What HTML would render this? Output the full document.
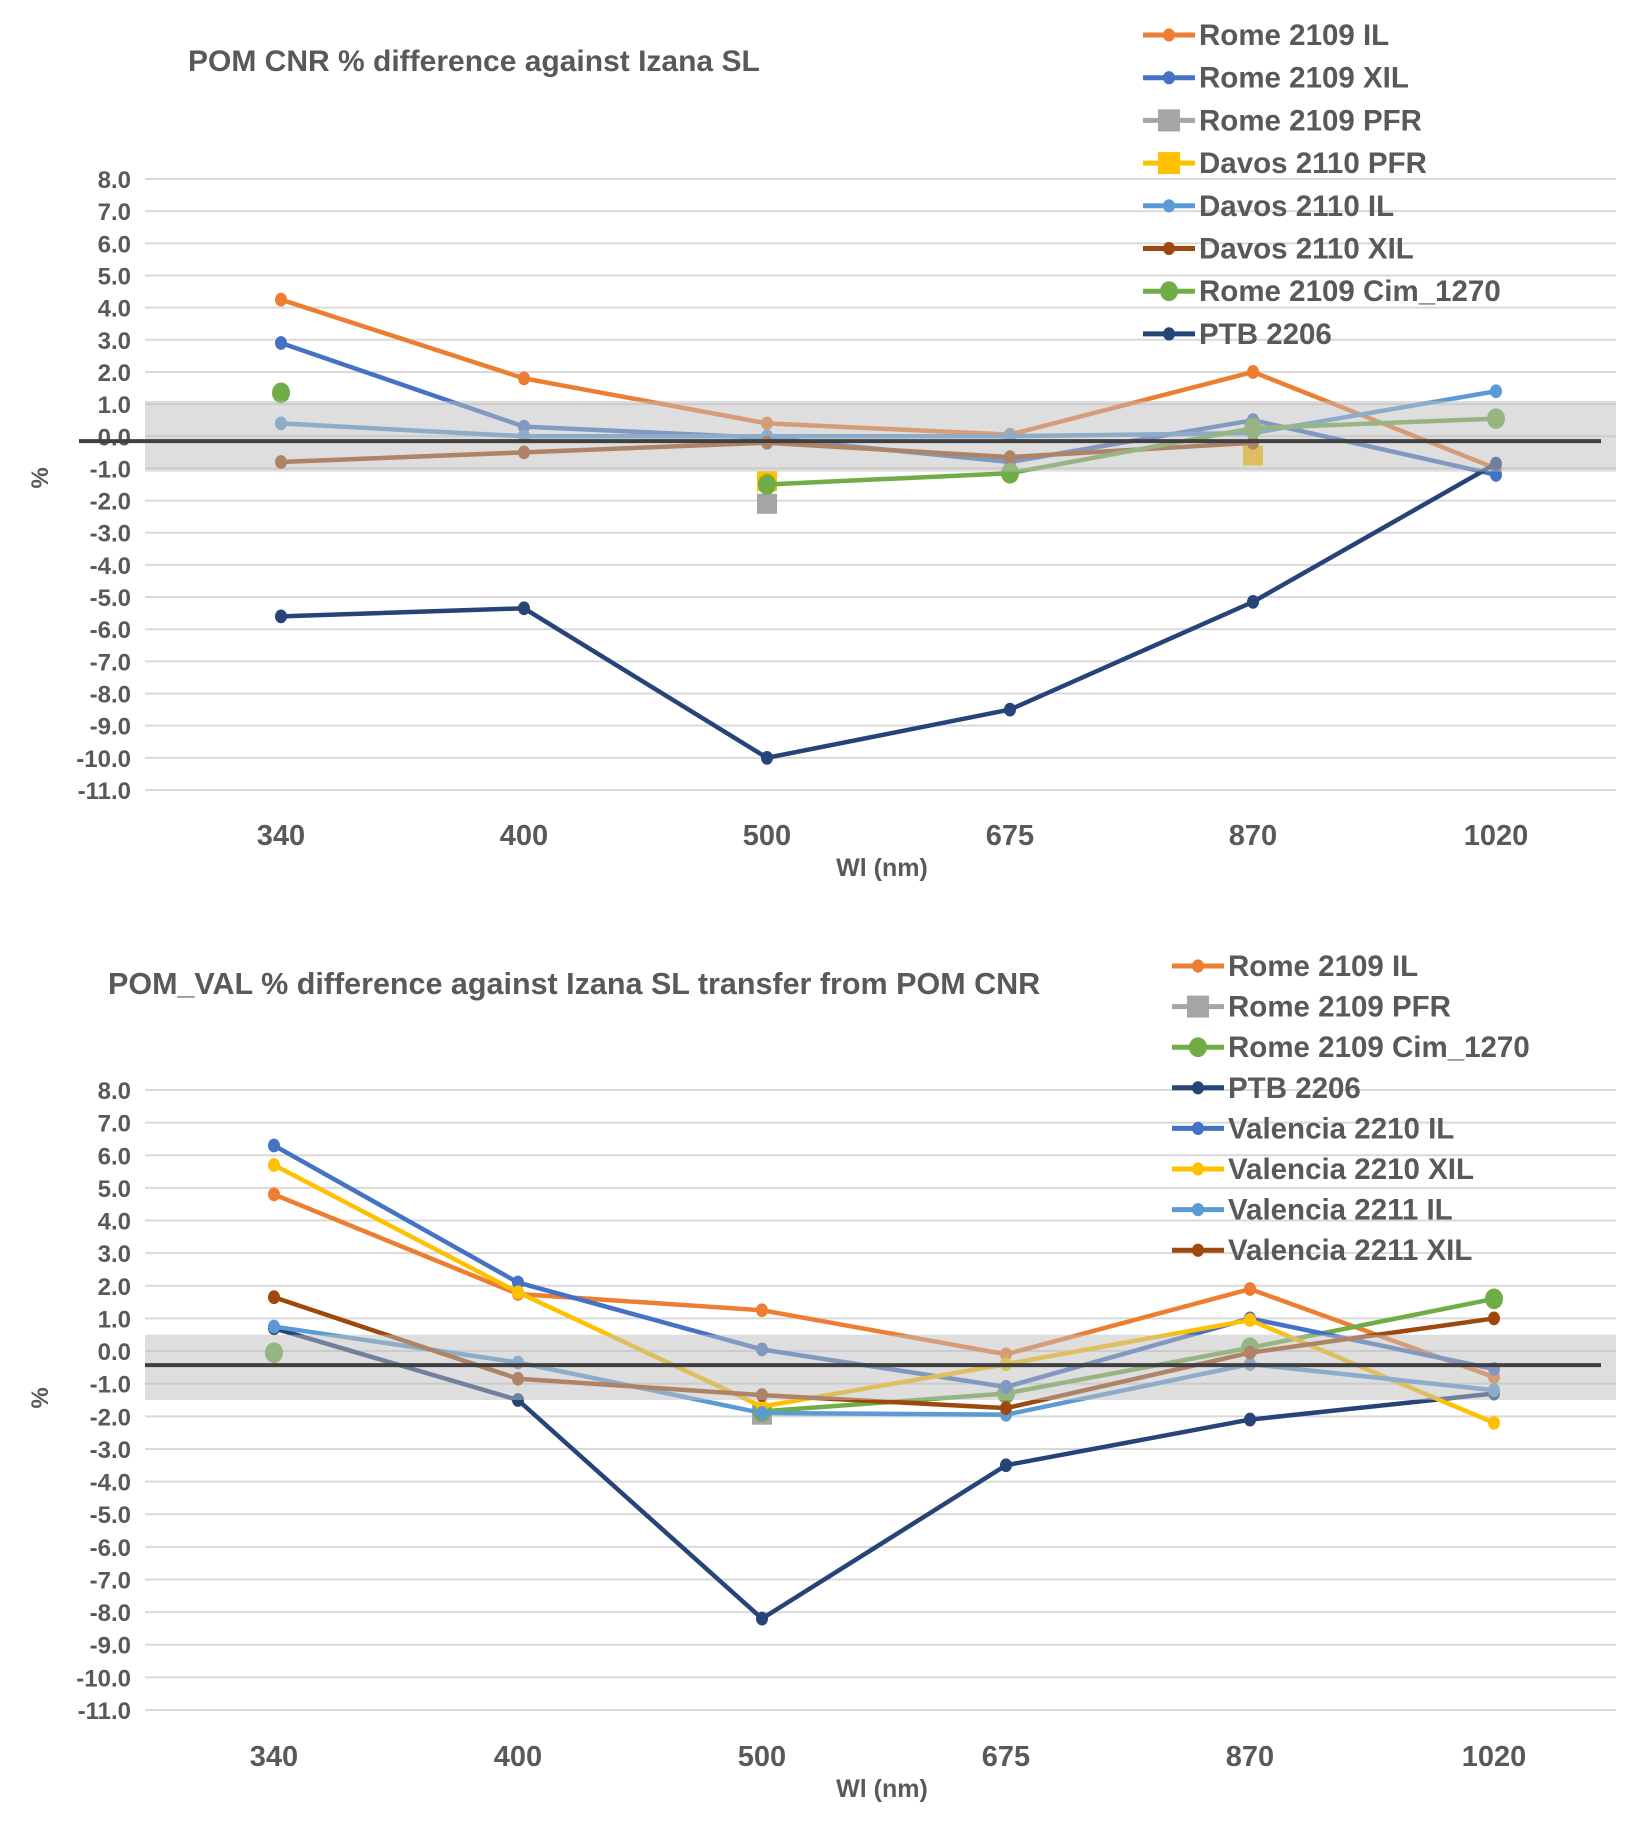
<!DOCTYPE html>
<html><head><meta charset="utf-8"><style>
body{margin:0;background:#fff}
svg text{font-family:"Liberation Sans",sans-serif;font-weight:bold;fill:#595959}
</style></head><body>
<svg id="svg" width="1637" height="1820" viewBox="0 0 1637 1820" xmlns="http://www.w3.org/2000/svg"></svg>
<script>
const categories=["340","400","500","675","870","1020"];
const yTicks=[8,7,6,5,4,3,2,1,0,-1,-2,-3,-4,-5,-6,-7,-8,-9,-10,-11];
// chart 1 series
const c1Names=["Rome 2109 IL","Rome 2109 XIL","Rome 2109 PFR","Davos 2110 PFR","Davos 2110 IL","Davos 2110 XIL","Rome  2109 Cim_1270","PTB 2206"];
const c1RomeIL=[4.25,1.8,0.4,0.05,2.0,-1.0];
const c1RomeXIL=[2.9,0.3,-0.05,-0.8,0.5,-1.2];
const c1RomePFR=[null,null,-2.1,null,null,null];
const c1DavosPFR=[null,null,-1.4,null,-0.6,null];
const c1DavosIL=[0.4,0.0,0.0,0.0,0.1,1.4];
const c1DavosXIL=[-0.8,-0.5,-0.2,-0.65,-0.2,null];
const c1Cim=[1.35,null,-1.5,-1.15,0.25,0.55];
const c1PTB=[-5.6,-5.35,-10.0,-8.5,-5.15,-0.85];
// chart 2 series
const c2Names=["Rome  2109 IL","Rome  2109 PFR","Rome  2109 Cim_1270","PTB 2206","Valencia 2210 IL","Valencia 2210 XIL","Valencia 2211 IL","Valencia 2211 XIL"];
const c2RomeIL=[4.8,1.75,1.25,-0.1,1.9,-0.8];
const c2RomePFR=[null,null,-1.95,null,null,null];
const c2Cim=[-0.05,null,-1.85,-1.3,0.1,1.6];
const c2PTB=[0.7,-1.5,-8.2,-3.5,-2.1,-1.3];
const c2V10IL=[6.3,2.1,0.05,-1.1,1.0,-0.55];
const c2V10XIL=[5.7,1.8,-1.7,-0.4,0.95,-2.2];
const c2V11IL=[0.75,-0.35,-1.9,-1.95,-0.4,-1.2];
const c2V11XIL=[1.65,-0.85,-1.35,-1.75,-0.05,1.0];

const svg=document.getElementById('svg');
const NS="http://www.w3.org/2000/svg";
function mk(tag,attrs,parent){const e=document.createElementNS(NS,tag);for(const k in attrs)e.setAttribute(k,attrs[k]);(parent||svg).appendChild(e);return e;}

function drawChart(cfg){
  const g=mk('g',{});
  
  
  const y=v=>cfg.y8+(8-v)*(cfg.y11-cfg.y8)/19;
  const x=i=>cfg.x0+i*(cfg.x5-cfg.x0)/5;
  const t=mk('text',{x:cfg.titleX,y:cfg.titleY,'font-size':cfg.titleSize},g);t.textContent=cfg.title;
  
  
  yTicks.forEach(v=>{
    const l=mk('line',{x1:145,x2:1616,y1:y(v),y2:y(v),stroke:'#d9d9d9','stroke-width':2},g);
    
    
    const tx=mk('text',{x:131,y:y(v)+9,'font-size':24,'text-anchor':'end'},g);tx.textContent=v.toFixed(1);
    
    
  });
  categories.forEach((c,i)=>{
    const tx=mk('text',{x:x(i),y:cfg.xlabY,'font-size':29,'text-anchor':'middle'},g);tx.textContent=c;
    
    
  });
  const xt=mk('text',{x:882,y:cfg.xlabY+31,'font-size':25,'text-anchor':'middle'},g);xt.textContent='Wl (nm)';
  
  
  const yt=mk('text',{x:0,y:0,'font-size':24,'text-anchor':'middle',transform:`translate(48,${cfg.pctY}) rotate(-90)`},g);yt.textContent='%';
  
  
  cfg.series.forEach((s,si)=>{
    const sg=mk('g',{},g);
    
    
    let seg=[];
    const flush=()=>{if(seg.length>1){mk('polyline',{points:seg.join(' '),fill:'none',stroke:s.color,'stroke-width':4.5,'stroke-linejoin':'round'},sg);}seg=[];};
    s.data.forEach((v,i)=>{if(v===null){flush();}else seg.push(x(i)+','+y(v));});
    flush();
    s.data.forEach((v,i)=>{
      if(v===null)return;
      let m;
      if(s.shape==='sq')m=mk('rect',{x:x(i)-10,y:y(v)-10,width:20,height:20,fill:s.color},sg);
      else m=mk('ellipse',{cx:x(i),cy:y(v),rx:s.r,ry:s.r*1.15,fill:s.color},sg);
      
      
    });
    const ly=cfg.legY+si*cfg.legDy;
    const lg=mk('g',{},g);
    
    
    mk('line',{x1:cfg.legX,x2:cfg.legX+52,y1:ly,y2:ly,stroke:s.color,'stroke-width':5},lg);
    if(s.shape==='sq')mk('rect',{x:cfg.legX+15,y:ly-11,width:22,height:22,fill:s.color},lg);
    else mk('ellipse',{cx:cfg.legX+26,cy:ly,rx:s.r,ry:s.r*1.1,fill:s.color},lg);
    const lt=mk('text',{x:cfg.legX+56,y:ly+10,'font-size':29.5},lg);lt.textContent=s.name;
  });
  const band=mk('rect',{x:145,y:y(cfg.band[0]),width:1471,height:y(cfg.band[1])-y(cfg.band[0]),fill:'rgba(190,190,190,0.5)'},g);
  
  
  const z=mk('line',{x1:cfg.zx1,x2:1601,y1:y(cfg.zero),y2:y(cfg.zero),stroke:'#404040','stroke-width':4},g);
  
  
}
const C={orange:'#ED7D31',blue:'#4472C4',gray:'#A5A5A5',yellow:'#FFC000',lblue:'#5B9BD5',brown:'#9E480E',green:'#70AD47',navy:'#264478'};
drawChart({id:'chart-pom-cnr',title:'POM CNR % difference against Izana SL',titleX:188,titleY:71,titleSize:30,
  y8:179,y11:790,x0:281,x5:1496,xlabY:845,pctY:478,band:[1.1,-1.1],zero:-0.15,zx1:79,
  legX:1143,legY:35,legDy:42.7,
  series:[
   {name:c1Names[0],data:c1RomeIL,color:C.orange,r:6},
   {name:c1Names[1],data:c1RomeXIL,color:C.blue,r:6},
   {name:c1Names[2],data:c1RomePFR,color:C.gray,shape:'sq'},
   {name:c1Names[3],data:c1DavosPFR,color:C.yellow,shape:'sq'},
   {name:c1Names[4],data:c1DavosIL,color:C.lblue,r:6},
   {name:c1Names[5],data:c1DavosXIL,color:C.brown,r:6},
   {name:c1Names[6],data:c1Cim,color:C.green,r:9},
   {name:c1Names[7],data:c1PTB,color:C.navy,r:6}]});
drawChart({id:'chart-pom-val',title:'POM_VAL % difference against Izana SL transfer from POM CNR',titleX:108,titleY:994,titleSize:30.5,
  y8:1090,y11:1710,x0:274,x5:1494,xlabY:1766,pctY:1398,band:[0.5,-1.5],zero:-0.43,zx1:145,
  legX:1172,legY:966,legDy:40.6,
  series:[
   {name:c2Names[0],data:c2RomeIL,color:C.orange,r:6},
   {name:c2Names[1],data:c2RomePFR,color:C.gray,shape:'sq'},
   {name:c2Names[2],data:c2Cim,color:C.green,r:9},
   {name:c2Names[3],data:c2PTB,color:C.navy,r:6},
   {name:c2Names[4],data:c2V10IL,color:C.blue,r:6},
   {name:c2Names[5],data:c2V10XIL,color:C.yellow,r:6},
   {name:c2Names[6],data:c2V11IL,color:C.lblue,r:6},
   {name:c2Names[7],data:c2V11XIL,color:C.brown,r:6}]});
</script>
</body></html>
